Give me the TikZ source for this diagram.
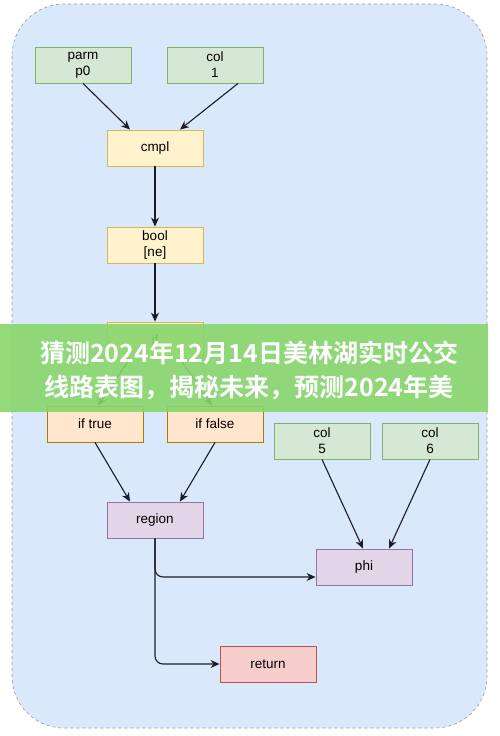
\documentclass[tikz,border=0pt]{standalone}
\usepackage{fontspec}
\setmainfont{Liberation Sans}
\newfontfamily\cjkb[BoldFont={Noto Sans CJK SC Bold}]{Noto Sans CJK SC}
\usetikzlibrary{arrows.meta,positioning}
\definecolor{bgblue}{HTML}{DAE8FC}
\definecolor{gfill}{HTML}{D5E8D4}\definecolor{gdraw}{HTML}{82B366}
\definecolor{yfill}{HTML}{FFF2CC}\definecolor{ydraw}{HTML}{D6B656}
\definecolor{ofill}{HTML}{FFE6CC}\definecolor{odraw}{HTML}{D79B00}
\definecolor{pfill}{HTML}{E1D5E7}\definecolor{pdraw}{HTML}{9673A6}
\definecolor{rfill}{HTML}{F8CECC}\definecolor{rdraw}{HTML}{B85450}
\definecolor{edgec}{HTML}{1C1C28}
\definecolor{banner}{RGB}{136,214,108}
\tikzset{
  box/.style={draw, line width=0.9pt, minimum width=96pt, minimum height=36pt, inner sep=0pt, align=center, font=\fontsize{13.5}{16}\selectfont},
  gbox/.style={box, fill=gfill, draw=gdraw},
  ybox/.style={box, fill=yfill, draw=ydraw},
  obox/.style={box, fill=ofill, draw=odraw!80!black},
  pbox/.style={box, fill=pfill, draw=pdraw},
  rbox/.style={box, fill=rfill, draw=rdraw},
  arr/.style={draw=edgec, line width=1.1pt, -{Stealth[length=9pt,width=8pt]}}
}
\begin{document}
\begin{tikzpicture}[x=1pt,y=-1pt]
\useasboundingbox (0,0) rectangle (499,736);
\fill[white] (0,0) rectangle (499,736);
\draw[fill=bgblue, draw=gray!80, dashed, line width=0.6pt, rounded corners=52pt] (12,4) rectangle (487,728);
\node[gbox] (parm) at (83,65) {parm\\p0};
\node[gbox] (col1) at (215,65) {col\\1};
\node[ybox] (cmpl) at (155,148) {cmpl};
\node[ybox] (bool) at (155,245) {bool\\{[ne]}};
\node[ybox] (if) at (155,340) {if};
\node[obox] (iftrue) at (95,424) {if true};
\node[obox] (iffalse) at (215,424) {if false};
\node[gbox] (col5) at (322,441) {col\\5};
\node[gbox] (col6) at (430,441) {col\\6};
\node[pbox] (region) at (155,520) {region};
\node[pbox] (phi) at (364,567) {phi};
\node[rbox] (ret) at (268,664) {return};
\draw[arr] (parm.south) -- ([xshift=-25pt]cmpl.north);
\draw[arr] ([xshift=23pt]col1.south) -- ([xshift=25pt]cmpl.north);
\draw[arr] (cmpl) -- (bool);
\draw[arr] (bool) -- (if);
\draw[arr] ([xshift=-25pt]if.south) -- ([xshift=3pt]iftrue.north);
\draw[arr] ([xshift=25pt]if.south) -- ([xshift=-3pt]iffalse.north);
\draw[arr] (iftrue.south) -- ([xshift=-25pt]region.north);
\draw[arr] (iffalse.south) -- ([xshift=25pt]region.north);
\draw[arr] (col5.south) -- ([xshift=-1pt]phi.north);
\draw[arr] (col6.south) -- ([xshift=25pt]phi.north);
\draw[arr, rounded corners=8pt] (region.south) |- ([yshift=-10pt]phi.west);
\draw[arr, rounded corners=8pt] (region.south) |- (ret.west);
\fill[banner, opacity=0.9] (0,324) rectangle (488,412);
\node[text=white, font=\cjkb\bfseries\fontsize{25}{34}\selectfont, align=center, inner sep=0pt] (title) at (249,370) {猜测2024年12月14日美林湖实时公交\\线路表图，揭秘未来，预测2024年美};
\end{tikzpicture}
\end{document}
